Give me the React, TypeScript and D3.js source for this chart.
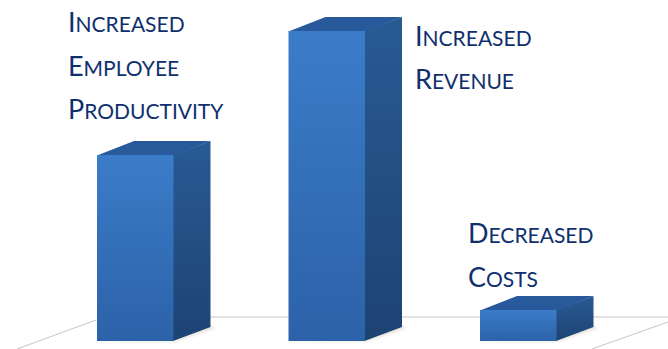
import React from "react";
import * as d3 from "d3";

// Business outcomes and their relative sizes
const categories = ["Productivity", "Revenue", "Costs"];
const values = [30, 50, 5];
const labelLines = [
  ["Increased", "Employee", "Productivity"],
  ["Increased", "Revenue"],
  ["Decreased", "Costs"],
];
const labelAnchors = [
  { x: 68, y: 32 },
  { x: 415, y: 45.5 },
  { x: 468, y: 243 },
];

const W = 668;
const H = 349;
const BASE = 341;
const BAR_W = 76.5;
const DX = 37;
const DY = 14;
const LINE_H = 43.5;

const y = d3.scaleLinear().domain([0, 50]).range([BASE, 31]);
const x = d3.scaleBand<string>().domain(categories).range([97, 671.5]);

const poly = d3.line<[number, number]>();

export default function App() {
  return (
    <svg
      width={W}
      height={H}
      viewBox={`0 0 ${W} ${H}`}
      style={{ position: "fixed", left: 0, top: 0, background: "#fff" }}
    >
      <defs>
        <linearGradient id="front" x1="0" y1="0" x2="0" y2="1">
          <stop offset="0" stopColor="#3b7cc9" />
          <stop offset="1" stopColor="#2c62a8" />
        </linearGradient>
        <linearGradient id="side" x1="0" y1="0" x2="0" y2="1">
          <stop offset="0" stopColor="#295a94" />
          <stop offset="1" stopColor="#1d4373" />
        </linearGradient>
        <filter id="shadow" x="-30%" y="-150%" width="160%" height="400%">
          <feGaussianBlur stdDeviation="1.6" />
        </filter>
      </defs>

      {/* floor outline */}
      <g stroke="#c9c5bd" strokeWidth={1} fill="none">
        <path d="M17,349 L96,320" />
        <path d="M210,317 L668,317" />
        <path d="M592,349 L668,322" />
      </g>

      {values.map((v, i) => {
        const left = x(categories[i])!;
        const right = left + BAR_W;
        const top = y(v);
        return (
          <g key={categories[i]}>
            <path
              d={poly([[left - 8, BASE + 0.5], [right + 2, BASE + 0.5], [right + DX + 5, BASE - DY + 1], [right + DX - 4, BASE - DY - 3], [right, BASE - 3]])!}
              fill="#c4b8a4"
              opacity={0.4}
              filter="url(#shadow)"
            />
            <path
              d={poly([[right - 0.5, top], [right + DX, top - DY], [right + DX, BASE - DY], [right - 0.5, BASE]])! + "Z"}
              fill="url(#side)"
            />
            <path
              d={poly([[left, top + 0.5], [left + DX, top - DY], [right + DX, top - DY], [right, top + 0.5]])! + "Z"}
              fill="#27599b"
            />
            <rect x={left} y={top} width={BAR_W} height={BASE - top} fill="url(#front)" />
          </g>
        );
      })}

      {labelLines.map((lines, i) => (
        <text key={i} fontFamily="Lato, 'Open Sans', sans-serif" fontSize={21} fill="#0f2f6e">
          {lines.map((line, j) => (
            <tspan key={j} x={labelAnchors[i].x} y={labelAnchors[i].y + j * LINE_H}>
              <tspan fontSize={27}>{line[0]}</tspan>
              {line.slice(1).toUpperCase()}
            </tspan>
          ))}
        </text>
      ))}
    </svg>
  );
}
